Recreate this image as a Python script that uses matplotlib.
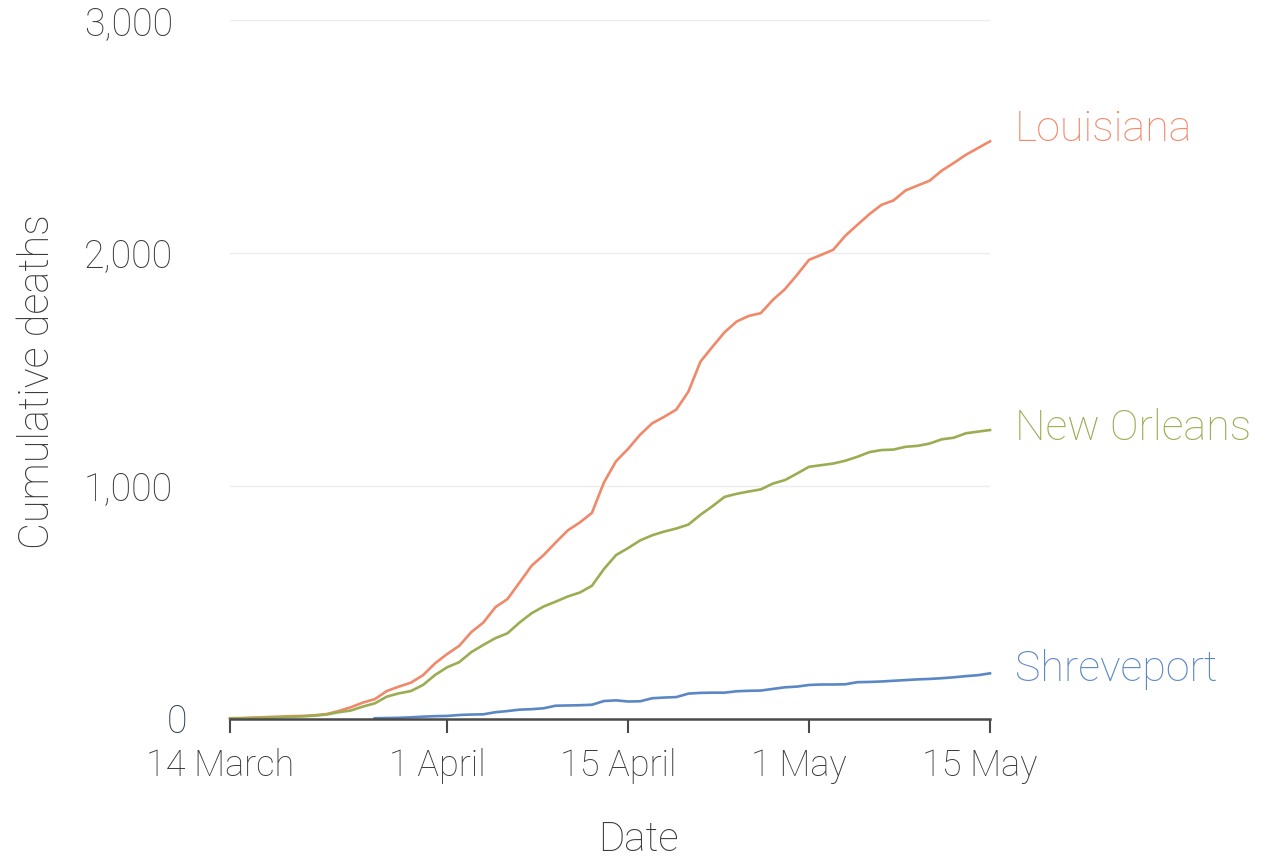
import matplotlib
matplotlib.use("Agg")
import matplotlib.pyplot as plt
import matplotlib.transforms as mtransforms
import numpy as np

# ---- data (days since 14 March 2020) ----
days = list(range(0, 64))
louisiana = [1, 2, 4, 6, 8, 10, 11, 14, 19, 32, 48, 68, 83, 118, 137, 154,
             186, 237, 277, 312, 371, 412, 478, 513, 584, 656, 702, 756, 808,
             842, 883, 1014, 1105, 1158, 1219, 1268, 1296, 1327, 1404, 1533,
             1597, 1659, 1705, 1729, 1741, 1798, 1844, 1905, 1970, 1991, 2013,
             2073, 2120, 2166, 2206, 2225, 2268, 2289, 2310, 2353, 2386, 2421,
             2450, 2479]
new_orleans = [0, 1, 2, 3, 5, 7, 9, 12, 17, 27, 34, 51, 65, 94, 108, 118,
               144, 187, 220, 242, 285, 316, 345, 366, 412, 452, 481, 502, 524,
               541, 570, 642, 702, 732, 765, 787, 803, 816, 833, 875, 912, 952,
               965, 975, 984, 1009, 1024, 1052, 1081, 1088, 1095, 1107, 1124,
               1144, 1153, 1155, 1167, 1171, 1181, 1199, 1206, 1225, 1232, 1239]
shreveport_days = list(range(12, 64))
shreveport = [1, 2, 3, 5, 8, 10, 11, 15, 17, 18, 27, 32, 38, 40, 44, 55, 56,
              57, 59, 75, 78, 73, 74, 87, 90, 92, 107, 110, 111, 111, 117, 119,
              120, 127, 134, 137, 144, 146, 146, 147, 156, 157, 159, 162, 165,
              168, 170, 173, 177, 182, 186, 194]

tick_days = [0, 18, 33, 48, 63]
tick_labels = ["14 March", "1 April", "15 April", "1 May", "15 May"]
y_ticks = [0, 1000, 2000, 3000]
y_labels = ["0", "1,000", "2,000", "3,000"]

series = [
    ("Louisiana", days, louisiana, "#f0896a", 12),
    ("New Orleans", days, new_orleans, "#9aad52", 2),
    ("Shreveport", shreveport_days, shreveport, "#5b87c5", 4),
]

plt.rcParams["font.family"] = ["Roboto", "DejaVu Sans"]
plt.rcParams["font.weight"] = "light"
plt.rcParams["axes.labelweight"] = "light"

fig = plt.figure(figsize=(12.68, 8.63), dpi=100)
ax = fig.add_axes([230 / 1268, 144.5 / 863, 760 / 1268, 698.5 / 863])

for name, xs, ys, col, dy in series:
    ax.plot(xs, ys, color=col, lw=1.9, solid_joinstyle="round", clip_on=False, zorder=3)
    ax.annotate(name, xy=(xs[-1], ys[-1]), xytext=(25, dy), textcoords="offset pixels",
                color=col, fontsize=31, ha="left", va="center", fontweight="light",
                annotation_clip=False)

ax.set_xlim(0, 63)
ax.set_ylim(0, 3000)

for s in ["top", "right", "left"]:
    ax.spines[s].set_visible(False)
ax.spines["bottom"].set_color("#4a4a4a")
ax.spines["bottom"].set_linewidth(1.8)
ax.spines["bottom"].set_zorder(4)

ax.set_xticks(tick_days)
ax.set_xticklabels(tick_labels)
ax.set_yticks(y_ticks)
ax.set_yticklabels(y_labels)

ax.tick_params(axis="x", length=10, width=1.5, color="#4a4a4a", labelsize=26,
               labelcolor="#3a3a3a", pad=11)
ax.tick_params(axis="y", length=0, labelsize=27, labelcolor="#3a3a3a", pad=41)

offset = mtransforms.ScaledTranslation(-10 / 100, 0, fig.dpi_scale_trans)
for lab in ax.get_xticklabels():
    lab.set_transform(lab.get_transform() + offset)
ylabs = ax.get_yticklabels()
ylabs[0].set_color("#2f3e4e")
ylabs[0].set_transform(ylabs[0].get_transform() + mtransforms.ScaledTranslation(14 / 100, 0, fig.dpi_scale_trans))

ax.grid(axis="y", color="#ececec", lw=1.0, zorder=0)
ax.grid(axis="x", visible=False)
ax.set_axisbelow(True)

ax.set_ylabel("Cumulative deaths", fontsize=30, color="#3a3a3a", va="center")
ax.yaxis.set_label_coords((38 - 230) / 760, (718.5 - 382) / 698.5)
ax.set_xlabel("Date", fontsize=29, color="#3a3a3a", va="center")
ax.xaxis.set_label_coords((638 - 230) / 760, (718.5 - 840) / 698.5)

fig.savefig("out.png", dpi=100, facecolor="white")
